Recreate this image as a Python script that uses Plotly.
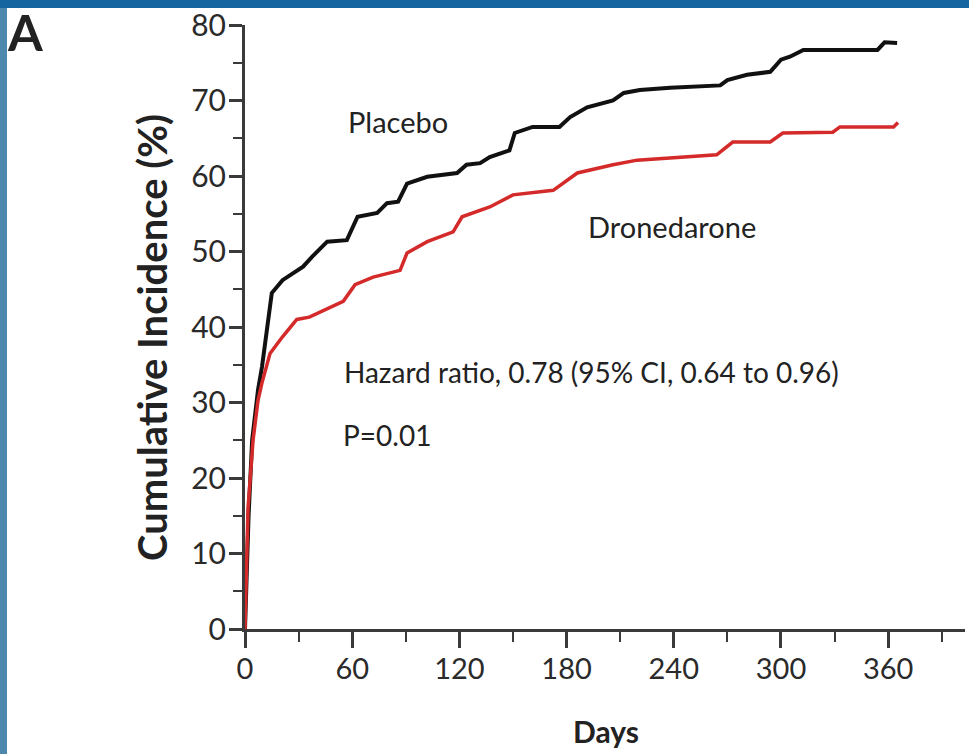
import plotly.graph_objects as go

# ---- data ----
placebo_days = [0, 2, 4, 7.3, 9.5, 12, 15, 21, 32.5, 37.5, 46, 57, 63, 74, 79.5, 85.7, 90.7,
                102, 118.7, 124, 131.6, 137, 148, 151, 161, 176, 182, 191.5, 206, 212, 221,
                238, 266, 270, 281, 294, 300, 305, 312.5, 354, 358, 365]
placebo_inc = [0, 15, 25, 31.7, 34.7, 39, 44.5, 46.2, 48, 49.3, 51.3, 51.5, 54.6, 55.1, 56.4,
               56.6, 59, 59.9, 60.4, 61.5, 61.7, 62.5, 63.4, 65.7, 66.5, 66.5, 67.8, 69.1, 70,
               71, 71.4, 71.7, 72, 72.7, 73.4, 73.8, 75.4, 75.8, 76.7, 76.7, 77.7, 77.6]

drone_days = [0, 1.7, 4.5, 7.3, 9.5, 14, 21, 29, 36, 51.5, 55, 61.6, 71.7, 86.8, 90.7, 102,
              116.5, 121.5, 137, 150, 172.5, 186, 206, 219.5, 243.6, 264, 273, 294, 301, 329,
              333, 363, 365.5]
drone_inc = [0, 16, 25, 30.3, 32.6, 36.5, 38.7, 41, 41.3, 43.0, 43.4, 45.6, 46.6, 47.5, 49.8,
             51.3, 52.6, 54.6, 55.9, 57.5, 58.1, 60.4, 61.5, 62.1, 62.5, 62.8, 64.5, 64.5, 65.7,
             65.8, 66.5, 66.5, 67.1]

x_ticks = [0, 60, 120, 180, 240, 300, 360]
y_ticks = [0, 10, 20, 30, 40, 50, 60, 70, 80]

FONT = "Lato, Arial, sans-serif"
AXIS_COLOR = "#3a3a3a"

W, H = 969, 754
ML, MR, MT, MB = 245, 4, 25, 125

fig = go.Figure()
fig.add_trace(go.Scatter(x=placebo_days, y=placebo_inc, mode="lines",
                         line=dict(color="#111111", width=4), name="Placebo",
                         showlegend=False))
fig.add_trace(go.Scatter(x=drone_days, y=drone_inc, mode="lines",
                         line=dict(color="#d42a2a", width=3.5), name="Dronedarone",
                         showlegend=False))

fig.update_layout(
    width=W, height=H,
    margin=dict(l=ML, r=MR, t=MT, b=MB),
    paper_bgcolor="white", plot_bgcolor="white",
    font=dict(family=FONT, color="#2a2a2a"),
    xaxis=dict(range=[0, 403], tickvals=x_ticks, ticktext=[str(v) for v in x_ticks],
               showgrid=False, zeroline=False, showline=True, linecolor=AXIS_COLOR,
               linewidth=3, ticks="outside", ticklen=16, tickwidth=2.5,
               tickcolor=AXIS_COLOR, tickfont=dict(size=29, family=FONT, color="#2a2a2a"),
               ticklabelstandoff=-4,
               minor=dict(dtick=30, tick0=0, ticks="outside", ticklen=10, tickwidth=2,
                          tickcolor=AXIS_COLOR)),
    yaxis=dict(range=[0, 80], tickvals=y_ticks, ticktext=[str(v) for v in y_ticks],
               showgrid=False, zeroline=False, showline=True, linecolor=AXIS_COLOR,
               linewidth=3, ticks="outside", ticklen=13, tickwidth=2.5,
               tickcolor=AXIS_COLOR, tickfont=dict(size=30, family=FONT, color="#2a2a2a"),
               ticklabelstandoff=-3,
               minor=dict(dtick=5, tick0=0, ticks="outside", ticklen=9, tickwidth=2,
                          tickcolor=AXIS_COLOR)),
)

pw = W - ML - MR
ph = H - MT - MB


def px_x(p):
    return (p - ML) / pw


def px_y(p):
    return 1 - (p - MT) / ph


# decorative frame from the slide background
fig.add_shape(type="rect", xref="paper", yref="paper",
              x0=px_x(0), x1=px_x(W), y0=px_y(8), y1=px_y(0),
              fillcolor="#1565a0", line=dict(width=0), layer="above")
fig.add_shape(type="rect", xref="paper", yref="paper",
              x0=px_x(0), x1=px_x(7), y0=px_y(H), y1=px_y(8),
              fillcolor="#4f88ad", line=dict(width=0), layer="above")

texts = [
    dict(text="Placebo", x=398, y=121, size=29),
    dict(text="Dronedarone", x=672, y=226, size=29),
    dict(text="Hazard ratio, 0.78 (95% CI, 0.64 to 0.96)", x=591, y=372, size=28),
    dict(text="P=0.01", x=387, y=435, size=28),
    dict(text="<b>Days</b>", x=606, y=731, size=30),
    dict(text="<b>A</b>", x=25, y=32, size=50),
]
for t in texts:
    fig.add_annotation(text=t["text"], xref="paper", yref="paper",
                       x=px_x(t["x"]), y=px_y(t["y"]), xanchor="center", yanchor="middle",
                       showarrow=False, font=dict(size=t["size"], family=FONT, color="#222222"))

fig.add_annotation(text="<b>Cumulative Incidence (%)</b>", xref="paper", yref="paper",
                   x=px_x(152), y=px_y(338), xanchor="center", yanchor="middle",
                   textangle=-90, showarrow=False,
                   font=dict(size=40, family=FONT, color="#222222"))

fig.write_html("out.html")
